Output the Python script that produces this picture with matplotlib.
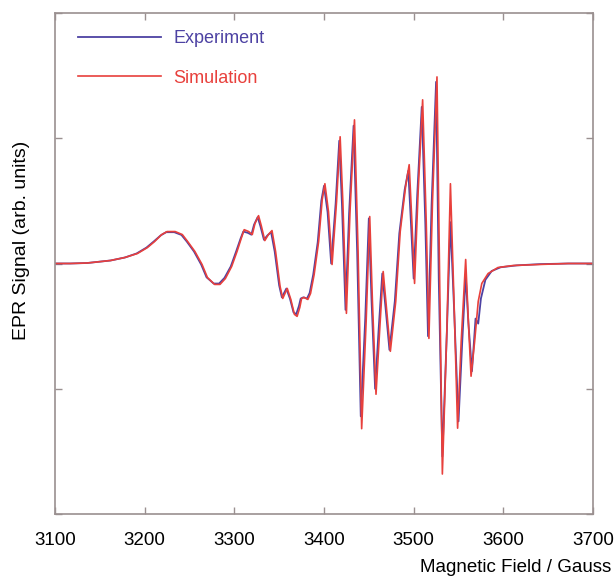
import matplotlib
matplotlib.use("Agg")
import matplotlib.pyplot as plt

plt.rcParams['font.family'] = ['Liberation Sans', 'DejaVu Sans']

# field (Gauss) and signal (arb. units)
field_sim = [3100, 3117, 3136, 3162, 3178, 3192, 3203, 3211, 3219, 3225, 3234, 3242,
             3248, 3256, 3264, 3270, 3278, 3284, 3290, 3297, 3303, 3308, 3311, 3316,
             3320, 3323, 3327, 3330, 3334, 3338, 3342, 3346, 3351, 3354, 3359, 3363,
             3367, 3370, 3373, 3375, 3378, 3382, 3385, 3389, 3394, 3398, 3401, 3405,
             3409, 3414, 3418, 3421, 3425, 3429, 3434, 3438, 3442, 3447, 3451, 3454,
             3458, 3462, 3466, 3470, 3474, 3480, 3485, 3491, 3495, 3498, 3501, 3505,
             3510, 3514, 3517, 3521, 3526, 3529, 3532, 3537, 3541, 3545, 3549, 3553,
             3558, 3561, 3564, 3568, 3572, 3576, 3583, 3594, 3611, 3639, 3672, 3700]
signal_sim = [0.0, 0.0, 0.004, 0.024, 0.048, 0.08, 0.127, 0.175, 0.231, 0.255, 0.255, 0.231,
              0.175, 0.096, -0.008, -0.112, -0.167, -0.167, -0.12, -0.024, 0.096, 0.207, 0.27, 0.255,
              0.231, 0.319, 0.382, 0.303, 0.183, 0.231, 0.263, 0.096, -0.183, -0.279, -0.199, -0.287,
              -0.406, -0.422, -0.351, -0.279, -0.271, -0.287, -0.239, -0.088, 0.175, 0.51, 0.637, 0.414,
              -0.008, 0.494, 1.012, 0.494, -0.398, 0.414, 1.147, 0.096, -1.319, -0.462, 0.375, -0.303,
              -1.044, -0.542, -0.064, -0.382, -0.701, -0.303, 0.255, 0.614, 0.789, 0.335, -0.159, 0.574,
              1.307, 0.335, -0.598, 0.494, 1.49, -0.143, -1.681, -0.542, 0.637, -0.303, -1.315, -0.622,
              0.032, -0.462, -0.90, -0.622, -0.303, -0.159, -0.08, -0.032, -0.016, -0.008, 0.0, 0.0]

field_exp = [3100, 3117, 3136, 3162, 3178, 3191, 3202, 3210, 3218, 3224, 3233, 3241,
             3247, 3255, 3263, 3269, 3277, 3283, 3289, 3296, 3302, 3307, 3310, 3315,
             3319, 3322, 3326, 3329, 3333, 3337, 3341, 3345, 3350, 3353, 3358, 3362,
             3366, 3369, 3372, 3374, 3377, 3381, 3384, 3388, 3393, 3397, 3400, 3404,
             3408, 3413, 3417, 3420, 3424, 3428, 3433, 3437, 3441, 3446, 3450, 3453,
             3457, 3461, 3465, 3469, 3473, 3479, 3484, 3490, 3494, 3497, 3500, 3504,
             3509, 3513, 3516, 3520, 3525, 3528, 3532, 3537, 3541, 3545, 3550, 3554,
             3558, 3561, 3565, 3569, 3572, 3575, 3580, 3587, 3597, 3615, 3641, 3673, 3700]
signal_exp = [0.0, 0.0, 0.004, 0.024, 0.048, 0.08, 0.127, 0.175, 0.225, 0.25, 0.25, 0.228,
              0.175, 0.096, -0.008, -0.11, -0.16, -0.16, -0.115, -0.024, 0.096, 0.2, 0.255, 0.245,
              0.23, 0.31, 0.37, 0.3, 0.19, 0.225, 0.25, 0.096, -0.175, -0.27, -0.2, -0.28,
              -0.39, -0.405, -0.34, -0.28, -0.27, -0.28, -0.235, -0.088, 0.17, 0.5, 0.62, 0.41,
              0.0, 0.48, 0.98, 0.48, -0.37, 0.4, 1.10, 0.09, -1.22, -0.44, 0.36, -0.29,
              -1.0, -0.52, -0.08, -0.38, -0.69, -0.3, 0.24, 0.59, 0.74, 0.32, -0.12, 0.55,
              1.25, 0.32, -0.58, 0.47, 1.45, -0.13, -1.54, -0.55, 0.33, -0.35, -1.26, -0.65,
              -0.09, -0.47, -0.86, -0.44, -0.48, -0.28, -0.13, -0.06, -0.03, -0.015, -0.005, 0.0, 0.0]

x_ticks = [3100, 3200, 3300, 3400, 3500, 3600, 3700]
y_ticks = [-2, -1, 0, 1, 2]

blue = '#4d42a3'
red = '#e8403c'

fig = plt.figure(figsize=(6.14, 5.77), dpi=100)
ax = fig.add_axes([55 / 614, 1 - 514 / 577, 538 / 614, 501 / 577])

ax.plot(field_exp, signal_exp, color=blue, lw=1.3, label='Experiment')
ax.plot(field_sim, signal_sim, color=red, lw=1.2, label='Simulation')

ax.set_xlim(3100, 3700)
ax.set_ylim(-2, 2)
ax.set_xticks(x_ticks)
ax.set_yticks(y_ticks)
ax.set_yticklabels([])
ax.tick_params(direction='in', top=True, right=True, length=5, width=1,
               color='#9a9090', labelsize=13.5, pad=13)
for sp in ax.spines.values():
    sp.set_color('#9a9090')
    sp.set_linewidth(1.2)

leg = ax.legend(loc='upper left', bbox_to_anchor=(0.042, 0.966), frameon=False,
                fontsize=13, handlelength=4.6, handletextpad=0.7, labelspacing=1.25,
                borderpad=0, borderaxespad=0, labelcolor='linecolor')

fig.text(22 / 614, 1 - 240 / 577, 'EPR Signal (arb. units)', rotation=90,
         ha='center', va='center', fontsize=14)
fig.text(611 / 614, 1 - 568 / 577, 'Magnetic Field / Gauss', ha='right',
         va='center', fontsize=13.5)

fig.savefig('out.png', dpi=100)
